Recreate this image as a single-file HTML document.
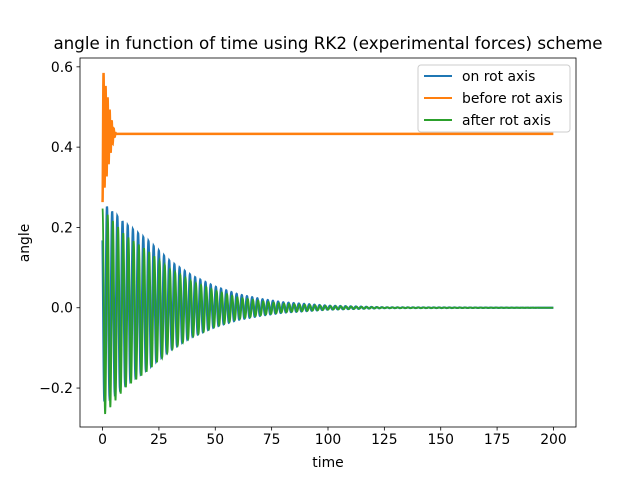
<!DOCTYPE html>
<html><head><meta charset="utf-8"><style>
body{margin:0;background:#fff}
text{font-family:"DejaVu Sans","Liberation Sans",sans-serif}
</style></head><body>
<svg id="c" width="640" height="480" xmlns="http://www.w3.org/2000/svg">
<rect width="640" height="480" fill="#fff"/>
<text x="328" y="49" font-size="16.7" text-anchor="middle">angle in function of time using RK2 (experimental forces) scheme</text>
<g id="plot"></g>
<g id="axes"></g>
<text x="328" y="467" font-size="13.9" text-anchor="middle">time</text>
<text transform="translate(29,243) rotate(-90)" font-size="13.9" text-anchor="middle">angle</text>
<g>
<rect x="418" y="65" width="152" height="67" rx="3" fill="#fff" fill-opacity="0.8" stroke="#ccc"/>
<line x1="424" y1="76" x2="452" y2="76" stroke="#1f77b4" stroke-width="2"/>
<text x="462" y="81" font-size="13.9">on rot axis</text>
<line x1="424" y1="98" x2="452" y2="98" stroke="#ff7f0e" stroke-width="2"/>
<text x="462" y="103" font-size="13.9">before rot axis</text>
<line x1="424" y1="120" x2="452" y2="120" stroke="#2ca02c" stroke-width="2"/>
<text x="462" y="125" font-size="13.9">after rot axis</text>
</g>
</svg>
<script>
const envTimes=[0,10,20,30,40,50,60,70,80,100,125,200];
const blueEnv=[0.25,0.2,0.16,0.11,0.075,0.05,0.032,0.021,0.013,0.005,0.001,0];
const greenEnv=[0.26,0.19,0.15,0.1,0.068,0.045,0.027,0.018,0.011,0.0045,0.001,0];
const orangeTimes=[0,1,2,3,4,5,6,200];
const orangeEnv=[0.17,0.13,0.1,0.065,0.035,0.012,0,0];
const orangeRest=0.433;
const period=2.3;
const xTicks=[0,25,50,75,100,125,150,175,200];
const yTicks=[-0.2,0.0,0.2,0.4,0.6];
const X0=80,X1=576,Y0=58,Y1=427,xmin=-10,xmax=210,ymin=-0.297,ymax=0.622;
const sx=v=>X0+(v-xmin)/(xmax-xmin)*(X1-X0);
const sy=v=>Y1-(v-ymin)/(ymax-ymin)*(Y1-Y0);
function interp(ts,vs,t){for(let i=1;i<ts.length;i++){if(t<=ts[i]){const f=(t-ts[i-1])/(ts[i]-ts[i-1]);return vs[i-1]+f*(vs[i]-vs[i-1]);}}return vs[vs.length-1];}
const ns="http://www.w3.org/2000/svg";
const plot=document.getElementById('plot'),axes=document.getElementById('axes');
function line(pts,color,name,w){const p=document.createElementNS(ns,'polyline');p.setAttribute('points',pts.join(' '));p.setAttribute('fill','none');p.setAttribute('stroke',color);p.setAttribute('stroke-width',w);


plot.appendChild(p);}
let b=[],g=[],o=[];
for(let t=0;t<=200;t+=0.05){
 const eb=interp(envTimes,blueEnv,t),eg=interp(envTimes,greenEnv,t);
 b.push(sx(t).toFixed(2)+','+sy(eb*Math.cos(2*Math.PI*t/period+0.9)+0.05*eb).toFixed(2));
 g.push(sx(t).toFixed(2)+','+sy(eg*Math.cos(2*Math.PI*t/period)-0.05*eg).toFixed(2));
 o.push(sx(t).toFixed(2)+','+sy(orangeRest-interp(orangeTimes,orangeEnv,t)*Math.cos(2*Math.PI*t/0.9)).toFixed(2));
}
line(b,'#1f77b4','series-on-rot-axis','2.2');line(o,'#ff7f0e','series-before-rot-axis','2.5');line(g,'#2ca02c','series-after-rot-axis','1.8');
function el(tag,attrs,txt){const e=document.createElementNS(ns,tag);for(const k in attrs)e.setAttribute(k,attrs[k]);if(txt!==undefined)e.textContent=txt;axes.appendChild(e);return e;}
const fr=el('rect',{x:X0,y:Y0,width:X1-X0,height:Y1-Y0,fill:'none',stroke:'#000','stroke-width':0.8});


xTicks.forEach(v=>{const x=sx(v);el('line',{x1:x,y1:Y1,x2:x,y2:Y1+3.5,stroke:'#000','stroke-width':0.8});
 const t=el('text',{x:x,y:Y1+17,'font-size':13.9,'text-anchor':'middle'},String(v));
 
 });
yTicks.forEach(v=>{const y=sy(v);el('line',{x1:X0-3.5,y1:y,x2:X0,y2:y,stroke:'#000','stroke-width':0.8});
 const t=el('text',{x:X0-7,y:y+5,'font-size':13.9,'text-anchor':'end'},(v<0?'\u2212':'')+Math.abs(v).toFixed(1));
 
 });
</script>
</body></html>
